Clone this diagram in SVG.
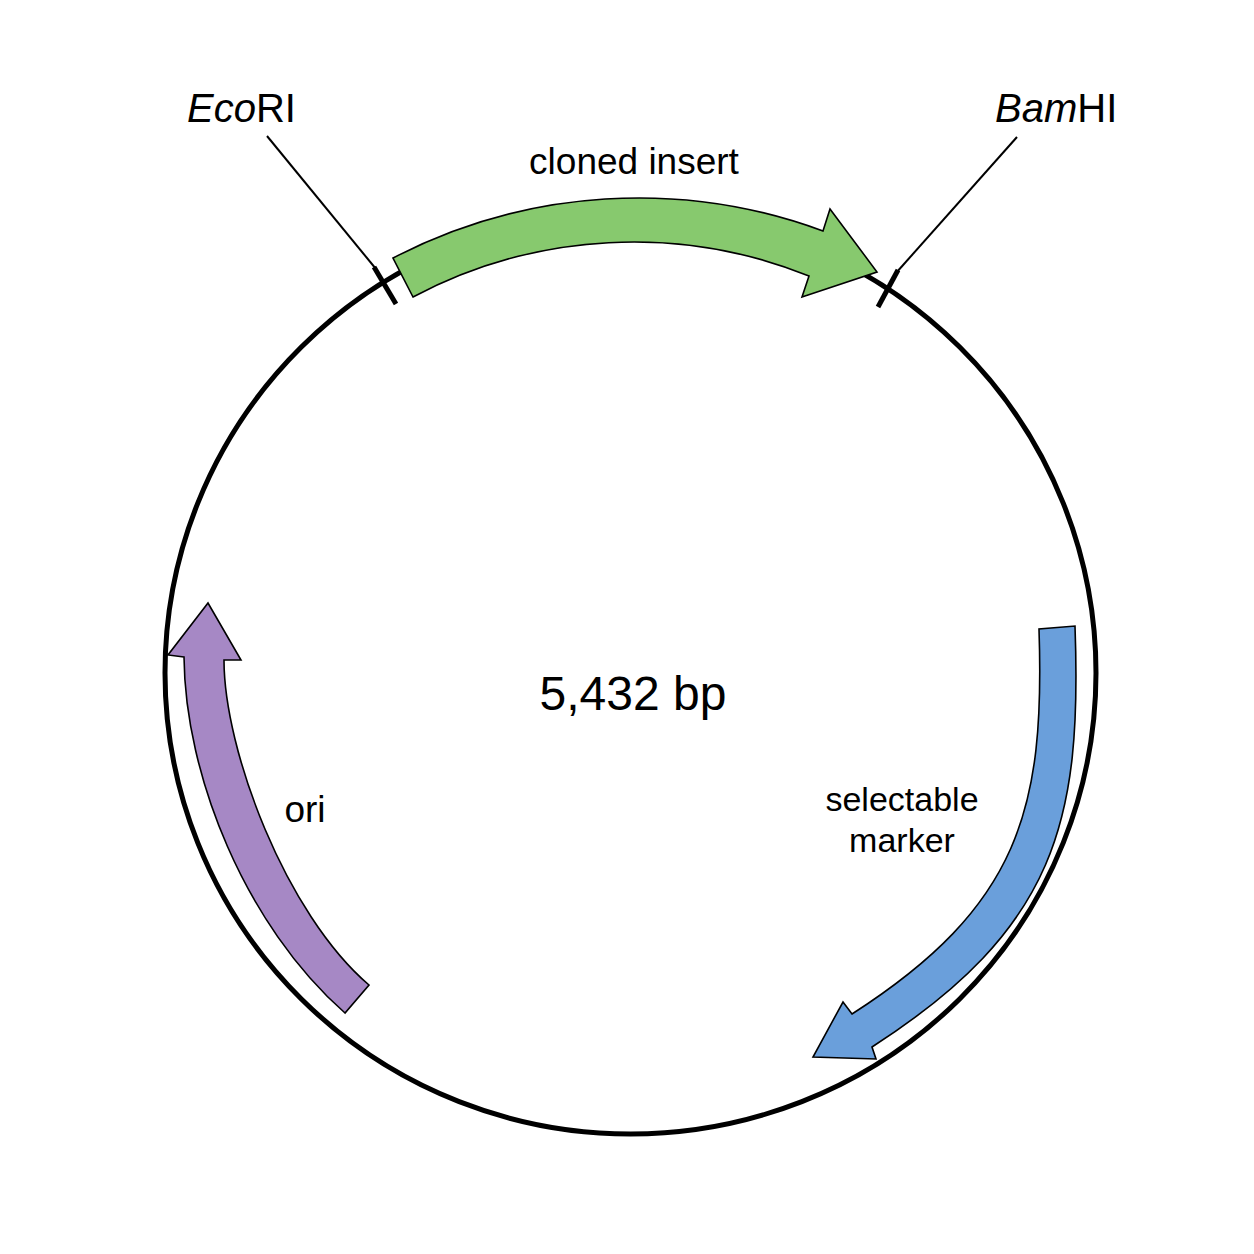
<svg xmlns="http://www.w3.org/2000/svg" width="1254" height="1254" viewBox="0 0 1254 1254">
  <style>
    .lbl { font-family: "Liberation Sans", Arial, sans-serif; fill: #000; }
    .feat { stroke: #000; stroke-width: 1.6; stroke-linejoin: miter; }
    .tick { stroke: #000; stroke-width: 5; fill: none; }
    .lead { stroke: #000; stroke-width: 2; fill: none; }
  </style>
  <rect width="1254" height="1254" fill="#ffffff"/>
  <g id="plasmid">
    <ellipse cx="630.5" cy="673" rx="465.5" ry="461" fill="none" stroke="#000" stroke-width="5"/>
  </g>
  <g id="connectors">
    <line class="lead" x1="267" y1="136" x2="376" y2="269"/>
    <line class="lead" x1="1017" y1="137" x2="896" y2="273"/>
  </g>
  <g id="EcoRI">
    <line class="tick" x1="374" y1="267" x2="396" y2="304"/>
    <text class="lbl" x="187" y="122" font-size="40"><tspan font-style="italic">Eco</tspan>RI</text>
  </g>
  <g id="BamHI">
    <line class="tick" x1="898" y1="270" x2="878" y2="307"/>
    <text class="lbl" x="995" y="122" font-size="40"><tspan font-style="italic">Bam</tspan>HI</text>
  </g>
  <g id="cloned-insert">
    <path class="feat" fill="#87c96e" d="M 393,258 A 532 532 0 0 1 823,231 L 830,209 L 877,272 L 802,297 L 809,276 A 470 470 0 0 0 413,297 Z"/>
    <text class="lbl" x="634" y="174" font-size="37" text-anchor="middle">cloned insert</text>
  </g>
  <g id="selectable-marker">
    <path class="feat" fill="#6a9fdb" d="M 1039,629 C 1045,809 1020,906 852,1014 L 843,1002 L 813,1057 L 876,1059 L 872,1047 C 1056.8,928 1082,821 1075,626 Z"/>
    <text class="lbl" font-size="34" text-anchor="middle"><tspan x="902" y="811">selectable</tspan><tspan x="902" y="852">marker</tspan></text>
  </g>
  <g id="ori">
    <path class="feat" fill="#a688c5" d="M 184,657 L 168,655 L 208,603 L 241,660 L 224,660 C 224,750 285.4,913.5 369,985 L 345,1013 C 245,925 185,775 184,657 Z"/>
    <text class="lbl" x="305" y="822" font-size="37" text-anchor="middle">ori</text>
  </g>
  <g id="size">
    <text class="lbl" x="633" y="710" font-size="48" text-anchor="middle">5,432 bp</text>
  </g>
</svg>
